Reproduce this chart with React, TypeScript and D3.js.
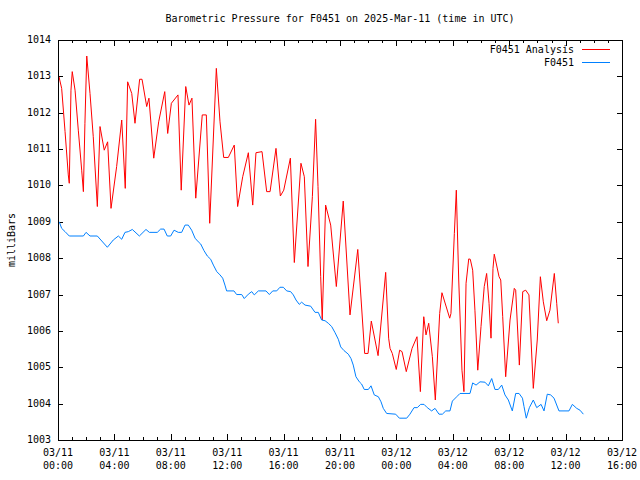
import React from "react";
import * as d3 from "d3";

const TITLE = "Barometric Pressure for F0451 on 2025-Mar-11 (time in UTC)";
const Y_LABEL = "milliBars";
const SERIES_NAMES = ["F0451 Analysis", "F0451"];
const SERIES_COLORS = ["#ff0000", "#0080ff"];
const START = "2025-03-11T00:00:00Z";
const X_DOMAIN_HOURS = [0, 40];
const Y_DOMAIN = [1003, 1014];
const Y_TICKS = [1003, 1004, 1005, 1006, 1007, 1008, 1009, 1010, 1011, 1012, 1013, 1014];

// hours since 03/11 00:00 UTC
const analysisHours = [0.07,0.26,0.50,0.73,0.80,0.92,1.01,1.21,1.44,1.68,
1.80,1.91,2.04,2.27,2.50,2.79,2.98,3.28,3.52,3.76,
4.16,4.52,4.77,4.94,5.23,5.46,5.79,5.96,6.29,6.45,
6.79,7.14,7.57,7.78,8.04,8.51,8.74,9.06,9.29,9.50,
9.77,10.23,10.52,10.76,11.23,11.49,11.75,12.08,12.50,12.74,
13.10,13.50,13.81,14.04,14.47,14.80,15.04,15.46,15.77,16.01,
16.48,16.76,17.23,17.47,17.73,18.04,18.27,18.44,18.63,18.74,
18.98,19.34,19.74,20.23,20.71,21.26,21.75,21.99,22.22,22.70,
23.24,23.45,23.55,23.71,23.99,24.23,24.40,24.70,25.11,25.46,
25.70,25.94,26.10,26.29,26.55,26.76,27.07,27.23,27.78,27.87,
28.11,28.25,28.42,28.65,28.79,28.94,29.13,29.24,29.41,29.57,
29.77,30.00,30.23,30.40,30.57,30.71,30.85,30.94,31.28,31.40,
31.54,31.75,32.06,32.36,32.46,32.72,32.96,33.17,33.40,33.71,
33.99,34.21,34.42,34.66,34.89,35.20,35.37,35.48];
const analysisValues = [1012.99,1012.67,1011.48,1010.29,1010.06,1012.62,1013.13,1012.62,1011.52,1010.42,
1009.83,1011.71,1013.56,1012.53,1011.34,1009.42,1011.62,1010.97,1011.20,1009.37,
1010.52,1011.80,1009.92,1012.85,1012.53,1011.71,1012.92,1012.92,1012.17,1012.40,
1010.75,1011.75,1012.58,1011.43,1012.26,1012.49,1009.87,1012.72,1012.21,1012.40,
1009.65,1011.94,1011.94,1008.96,1013.22,1011.75,1010.77,1010.77,1011.11,1009.42,
1010.24,1010.90,1009.46,1010.90,1010.93,1009.83,1009.83,1011.02,1009.71,1009.87,
1010.75,1007.88,1010.61,1010.24,1007.77,1009.69,1011.82,1009.97,1007.49,1006.30,
1009.46,1008.91,1007.22,1009.57,1006.44,1008.24,1005.38,1005.38,1006.27,1005.32,
1007.61,1005.80,1005.52,1005.38,1004.94,1005.47,1005.43,1004.88,1005.52,1005.84,
1004.33,1006.39,1005.89,1006.21,1005.29,1004.10,1006.48,1007.05,1006.35,1006.48,
1008.68,1009.87,1007.40,1004.92,1004.33,1007.31,1007.98,1007.97,1007.67,1006.57,
1004.92,1006.12,1007.22,1007.58,1006.76,1005.80,1007.72,1008.11,1007.49,1007.40,
1006.39,1004.74,1006.30,1007.17,1007.12,1005.06,1007.08,1007.12,1006.99,1004.42,
1005.75,1007.49,1006.80,1006.28,1006.57,1007.58,1006.76,1006.21];

const stationHours = [0.09,0.26,0.50,0.80,1.80,1.99,2.27,2.79,3.50,3.92,
4.28,4.52,4.75,4.99,5.27,5.77,6.24,6.48,7.04,7.28,
7.52,7.75,7.99,8.23,8.53,8.77,9.01,9.24,9.48,9.72,
9.95,10.12,10.35,10.59,10.83,11.02,11.26,11.49,11.68,11.84,
11.96,12.48,12.67,13.03,13.21,13.50,13.74,13.92,14.21,14.75,
14.99,15.23,15.51,15.74,15.98,16.22,16.50,16.69,16.88,17.11,
17.28,17.52,17.92,18.23,18.46,18.70,18.94,19.17,19.41,19.65,
19.88,20.05,20.28,20.59,20.78,20.94,21.13,21.37,21.53,21.72,
22.01,22.20,22.43,22.72,22.91,23.07,23.31,23.95,24.21,24.73,
24.96,25.25,25.48,25.72,25.96,26.19,26.50,26.74,27.02,27.26,
27.50,27.80,27.97,28.28,28.51,29.22,29.41,29.65,29.93,30.28,
30.52,30.76,30.99,31.23,31.47,31.70,31.94,32.22,32.46,32.70,
32.94,33.05,33.21,33.43,33.71,33.95,34.26,34.47,34.70,34.94,
35.18,35.53,36.24,36.48,36.79,37.02,37.26];
const stationValues = [1009.00,1008.82,1008.73,1008.61,1008.61,1008.71,1008.61,1008.61,1008.30,1008.50,
1008.61,1008.52,1008.71,1008.73,1008.79,1008.61,1008.79,1008.71,1008.71,1008.80,
1008.80,1008.61,1008.61,1008.77,1008.71,1008.71,1008.91,1008.91,1008.77,1008.55,
1008.45,1008.39,1008.21,1008.06,1007.97,1007.81,1007.63,1007.54,1007.45,1007.26,
1007.10,1007.10,1007.00,1007.00,1006.89,1007.01,1007.08,1006.99,1007.10,1007.10,
1007.00,1007.10,1007.10,1007.20,1007.20,1007.10,1007.08,1006.99,1006.85,1006.73,
1006.79,1006.71,1006.68,1006.51,1006.51,1006.30,1006.28,1006.21,1006.12,1005.95,
1005.77,1005.56,1005.46,1005.36,1005.24,1005.06,1004.74,1004.60,1004.54,1004.39,
1004.39,1004.49,1004.24,1004.19,1004.05,1003.87,1003.73,1003.71,1003.60,1003.60,
1003.71,1003.89,1003.89,1003.98,1003.98,1003.89,1003.80,1003.87,1003.71,1003.71,
1003.80,1003.80,1004.07,1004.19,1004.28,1004.28,1004.57,1004.51,1004.60,1004.59,
1004.49,1004.69,1004.39,1004.39,1004.51,1004.24,1004.10,1003.80,1004.28,1004.28,
1004.15,1003.92,1003.60,1003.89,1004.10,1003.89,1003.98,1003.80,1004.26,1004.24,
1004.15,1003.80,1003.80,1003.98,1003.87,1003.82,1003.71];

const W = 640, H = 480;
const M = { left: 58, right: 622, top: 40, bottom: 440 };
const FONT = "'DejaVu Sans Mono', 'Liberation Mono', monospace";

export default function App() {
  const t0 = new Date(START).getTime();
  const toDate = (h: number) => new Date(t0 + h * 3600e3);
  const x = d3.scaleUtc().domain(X_DOMAIN_HOURS.map(toDate)).range([M.left, M.right]);
  const y = d3.scaleLinear().domain(Y_DOMAIN).range([M.bottom, M.top]);

  const majorTicks = x.ticks(d3.utcHour.every(4) as any);
  const minorTicks = x.ticks(d3.utcHour.every(1) as any);
  const fmtDate = d3.utcFormat("%m/%d");
  const fmtTime = d3.utcFormat("%H:%M");

  const line = d3.line<[number, number]>()
    .x((d) => x(toDate(d[0])))
    .y((d) => y(d[1]));

  const series = [
    analysisHours.map((h, i) => [h, analysisValues[i]] as [number, number]),
    stationHours.map((h, i) => [h, stationValues[i]] as [number, number]),
  ];

  return (
    <svg width={W} height={H} style={{ position: "absolute", left: 0, top: 0, background: "#fff" }}
      fontFamily={FONT} fontSize={10}>
      <rect x={0} y={0} width={W} height={H} fill="#fff" />
      <text x={(M.left + M.right) / 2} y={19} textAnchor="middle" dominantBaseline="middle">{TITLE}</text>
      <text transform={`translate(12,${(M.top + M.bottom) / 2}) rotate(-90)`} textAnchor="middle" dominantBaseline="middle">{Y_LABEL}</text>

      {Y_TICKS.map((v) => (
        <g key={v}>
          <line x1={M.left} x2={M.left + 5} y1={Math.round(y(v)) + 0.5} y2={Math.round(y(v)) + 0.5} stroke="#000" />
          <line x1={M.right - 5} x2={M.right} y1={Math.round(y(v)) + 0.5} y2={Math.round(y(v)) + 0.5} stroke="#000" />
          <text x={51} y={y(v)} textAnchor="end" dominantBaseline="middle">{v}</text>
        </g>
      ))}

      {minorTicks.map((d, i) => {
        const px = Math.round(x(d)) + 0.5;
        return (
          <g key={"m" + i}>
            <line x1={px} x2={px} y1={M.bottom} y2={M.bottom - 3} stroke="#000" />
            <line x1={px} x2={px} y1={M.top} y2={M.top + 3} stroke="#000" />
          </g>
        );
      })}
      {majorTicks.map((d, i) => {
        const px = Math.round(x(d)) + 0.5;
        return (
          <g key={"M" + i}>
            <line x1={px} x2={px} y1={M.bottom} y2={M.bottom - 6} stroke="#000" />
            <line x1={px} x2={px} y1={M.top} y2={M.top + 6} stroke="#000" />
            <text x={x(d)} y={453} textAnchor="middle" dominantBaseline="middle">{fmtDate(d)}</text>
            <text x={x(d)} y={466} textAnchor="middle" dominantBaseline="middle">{fmtTime(d)}</text>
          </g>
        );
      })}

      {series.map((s, i) => (
        <path key={i} d={line(s) || ""} fill="none" stroke={SERIES_COLORS[i]} strokeWidth={1} />
      ))}

      <rect x={M.left + 0.5} y={M.top + 0.5} width={M.right - M.left} height={M.bottom - M.top} fill="none" stroke="#000" />

      {SERIES_NAMES.map((n, i) => (
        <g key={n}>
          <text x={574} y={50 + i * 13} textAnchor="end" dominantBaseline="middle">{n}</text>
          <line x1={582} x2={610} y1={49.5 + i * 13} y2={49.5 + i * 13} stroke={SERIES_COLORS[i]} />
        </g>
      ))}
    </svg>
  );
}
